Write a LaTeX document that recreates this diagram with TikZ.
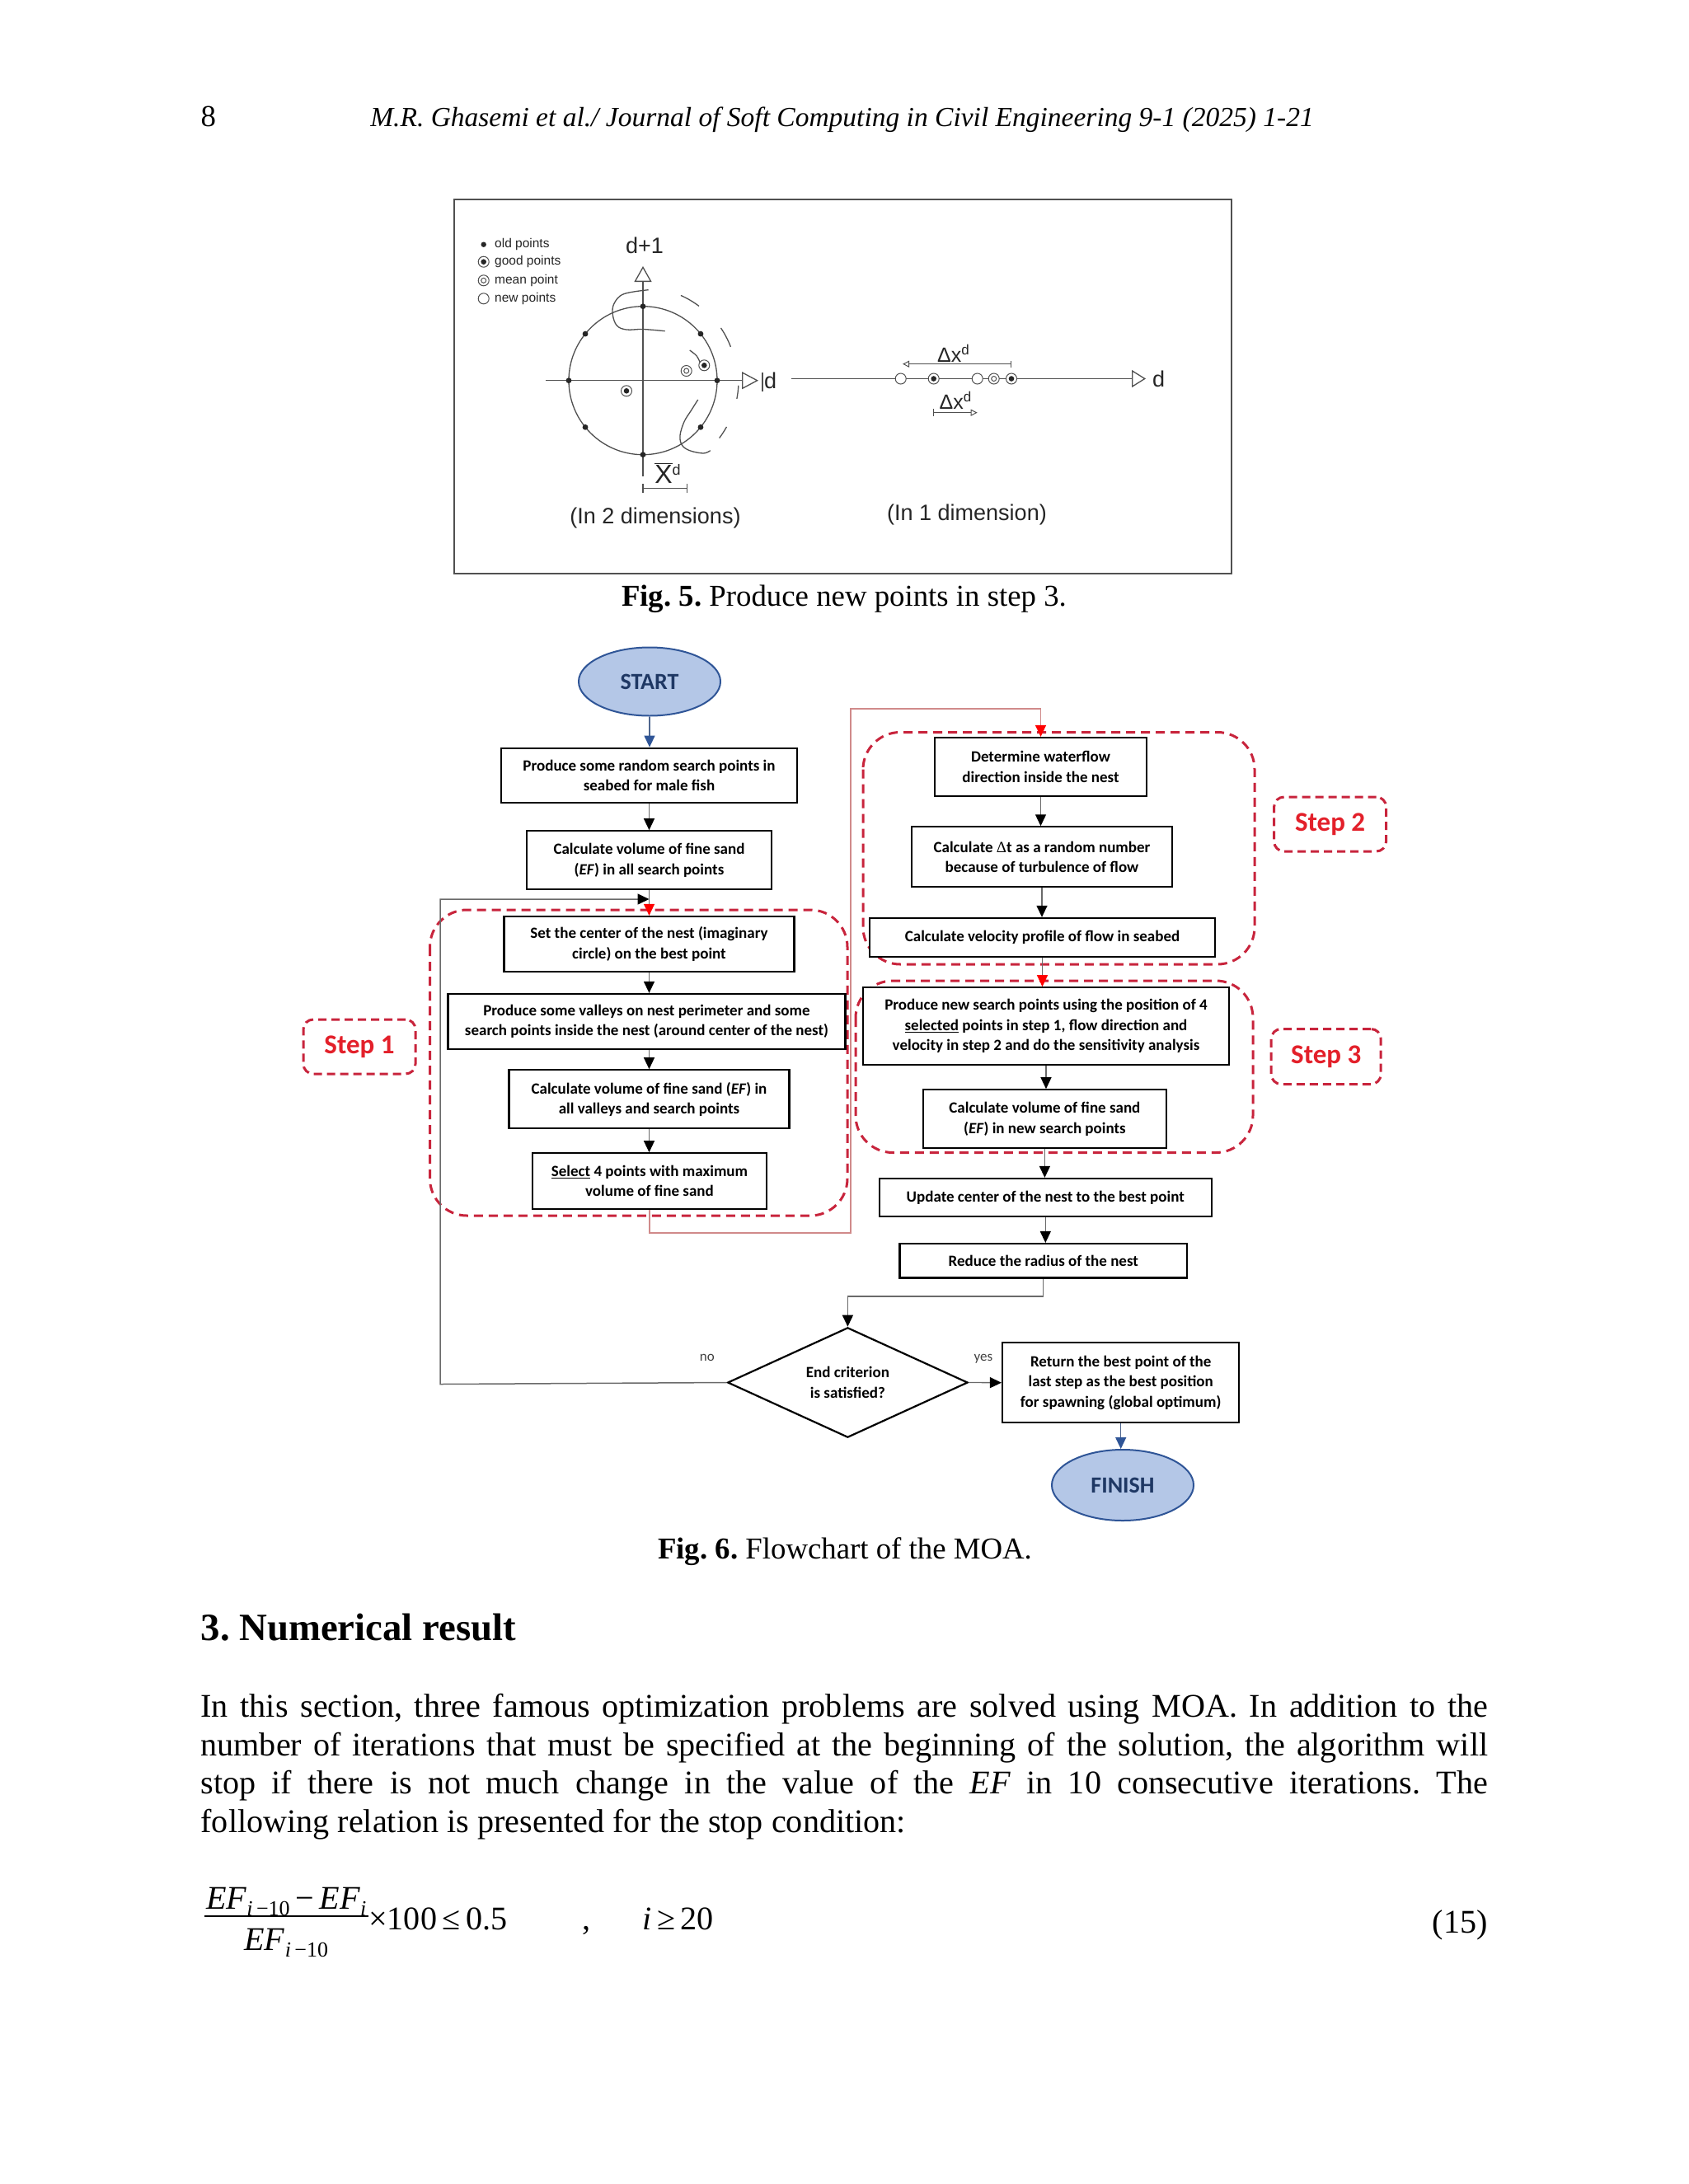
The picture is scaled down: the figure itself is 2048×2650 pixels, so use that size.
\documentclass[tikz,border=0pt]{standalone}
\usepackage{fontspec}
\setmainfont{Liberation Serif}
\newfontfamily\carlito{Carlito}
\newfontfamily\arialf{Liberation Sans}
\usetikzlibrary{arrows.meta,shapes.geometric}
\definecolor{startfill}{HTML}{B4C7E7}
\definecolor{startline}{HTML}{2F5597}
\definecolor{starttext}{HTML}{1F3864}
\definecolor{dashred}{HTML}{C8243C}
\definecolor{stepred}{HTML}{E3202A}
\definecolor{pinkl}{HTML}{D08A8A}
\definecolor{lineg}{HTML}{6A6A6A}
\definecolor{figg}{HTML}{505050}
\definecolor{figt}{HTML}{262626}
\frenchspacing
\newcommand{\fcf}{\carlito\bfseries\fontsize{19}{24.5}\selectfont}
\newcommand{\af}[1]{\arialf\fontsize{#1}{#1}\selectfont}
\newcommand{\EFs}[1]{\textit{EF}\raisebox{-8pt}{\fontsize{26}{26}\selectfont #1}}
\tikzset{
  fcbox/.style={draw=black, line width=2.2pt, fill=white, align=center, inner sep=0pt, font=\fcf},
  arr/.style={draw=lineg, line width=1.3pt, -{Triangle[length=14pt,width=13pt,color=black]}},
  redarr/.style={draw=lineg, line width=1.3pt, -{Triangle[length=14pt,width=13pt,color=red]}},
  bluearr/.style={draw=startline!60!gray, line width=1.3pt, -{Triangle[length=14pt,width=13pt,color=startline]}},
  pinkarr/.style={draw=pinkl, line width=1.3pt, -{Triangle[length=14pt,width=13pt,color=red]}},
  looparr/.style={draw=lineg, line width=1.5pt, -{Triangle[length=14pt,width=13pt,color=black]}},
  stepdash/.style={draw=dashred, line width=3pt, dash pattern=on 11pt off 7pt, rounded corners=45pt},
  steplab/.style={draw=dashred, line width=3pt, dash pattern=on 10pt off 6pt, rounded corners=12pt, text=stepred, font=\carlito\bfseries\fontsize{33}{33}\selectfont, inner sep=0pt},
  termin/.style={ellipse, draw=startline, line width=2pt, fill=startfill, text=starttext, font=\carlito\bfseries\fontsize{28}{28}\selectfont, inner sep=0pt},
  figline/.style={draw=figg, line width=1.3pt},
  figtxt/.style={text=figt, inner sep=0pt},
  pagetxt/.style={inner sep=0pt, font=\fontsize{40.15}{46.7}\selectfont},
  lbl/.style={inner sep=0pt, text=black!75, font=\carlito\fontsize{17}{17}\selectfont}
}
\begin{document}
\begin{tikzpicture}[x=1pt,y=-1pt]
\useasboundingbox (0,0) rectangle (2048,2650);
\fill[white] (0,0) rectangle (2048,2650);

% ---------- header ----------
\node[anchor=base west, inner sep=0pt, font=\fontsize{36.8}{40}\selectfont] (pg) at (243.4,153) {8};
\node[anchor=base, inner sep=0pt, font=\itshape\fontsize{33.5}{40}\selectfont] (hd) at (1021.5,153) {M.R. Ghasemi et al./ Journal of Soft Computing in Civil Engineering 9-1 (2025) 1-21};

% ---------- Fig. 5 ----------
\draw[draw=figg, line width=1.8pt] (551,242) rectangle (1494,696);
% legend
\fill[figt] (586.7,296.7) circle (3.2);
\draw[figline, line width=1pt] (586.7,317.7) circle (6.5);
\fill[figt] (586.7,317.7) circle (3.3);
\draw[figline, line width=1pt] (586.7,340.3) circle (6.5);
\draw[figline, line width=1pt] (586.7,340.3) circle (3);
\draw[figline, line width=1pt] (586.7,362.3) circle (6.5);
\node[figtxt, anchor=west, font=\af{15.5}] (leg1) at (600,296.7) {old points};
\node[figtxt, anchor=west, font=\af{15.5}] (leg2) at (600,317.7) {good points};
\node[figtxt, anchor=west, font=\af{15.5}] (leg3) at (600,340.3) {mean point};
\node[figtxt, anchor=west, font=\af{15.5}] (leg4) at (600,362.3) {new points};
% 2D axes
\draw[figline, -{Triangle[open,length=19pt,width=21pt]}] (780,578) -- (780,323);
\draw[figline, -{Triangle[open,length=20pt,width=21pt]}] (662,461.7) -- (920,461.7);
\draw[figline] (925,452) -- (925,475);
\node[figtxt, font=\af{27}] (dp1) at (782,298) {d+1};
\node[figtxt, anchor=west, font=\af{27}] (d2) at (927,461.7) {d};
\draw[figline] (780,461.7) circle (90);
\foreach \a in {0,39,90,141,180,219,270,321}
  \fill[figt] (780,461.7) ++(\a:90) circle (3.4);
% good / mean points
\draw[figline, line width=1pt, fill=white] (760,474.3) circle (6.5);
\fill[figt] (760,474.3) circle (3.3);
\draw[figline, line width=1pt, fill=white] (854.3,443.3) circle (6.5);
\fill[figt] (854.3,443.3) circle (3.3);
\draw[figline, line width=1pt] (832.7,450) circle (6.5);
\draw[figline, line width=1pt] (832.7,450) circle (3);
% dashed arc pieces
\draw[figline] (780,461.7) ++(-66:113) arc (-66:-53:113);
\draw[figline] (780,461.7) ++(-34:114) arc (-34:-21:114);
\draw[figline] (780,461.7) ++(3:116) arc (3:11:116);
\draw[figline] (780,461.7) ++(29:116) arc (29:37:116);
% swirl curves
\draw[figline] plot[smooth, tension=0.6] coordinates {(786.7,351.7) (756.7,356.7) (745,368.3) (743.3,381.7) (748.3,395) (760,400) (780,399.5) (806.7,401.7)};
\draw[figline] plot[smooth, tension=0.6] coordinates {(846.7,485) (838.3,498.3) (830,511.7) (825,528.3) (827.3,540) (836.7,546.7) (853.3,550) (861.7,546.7)};
\draw[figline] plot[smooth, tension=0.6] coordinates {(836.7,425) (845,431.7) (849.3,440)};
% Xbar dimension
\node[figtxt, font=\af{32}] (xbar) at (810,574) {$\overline{\hbox{X}}$\raisebox{10pt}{\af{18}d}};
\draw[figline] (780,592.3) -- (833.3,592.3);
\draw[figline] (780,587) -- (780,597.5);
\draw[figline] (833.3,587) -- (833.3,597.5);
\node[figtxt, font=\af{27}] (in2) at (795,628.3) {(In 2 dimensions)};
% 1D axis
\draw[figline, -{Triangle[open,length=17pt,width=21pt]}] (960,459.5) -- (1390,459.5);
\node[figtxt, anchor=west, font=\af{27}] (d1) at (1398,459.5) {d};
\draw[figline, line width=1pt, fill=white] (1092.7,459.5) circle (6.5);
\draw[figline, line width=1pt, fill=white] (1132.7,459.5) circle (6.5);
\fill[figt] (1132.7,459.5) circle (3.3);
\draw[figline, line width=1pt, fill=white] (1185.7,459.5) circle (6.5);
\draw[figline, line width=1pt, fill=white] (1205.7,459.5) circle (6.5);
\draw[figline, line width=1pt] (1205.7,459.5) circle (3);
\draw[figline, line width=1pt, fill=white] (1227,459.5) circle (6.5);
\fill[figt] (1227,459.5) circle (3.3);
\draw[figline, line width=1pt, -{Triangle[open,length=8pt,width=8pt]}] (1226.7,441.7) -- (1095,441.7);
\draw[figline, line width=1pt] (1226.7,437.5) -- (1226.7,446);
\node[figtxt, anchor=base, font=\af{25}] (dxa) at (1156.5,439) {Δx\raisebox{9pt}{\af{17}d}};
\draw[figline, line width=1pt, -{Triangle[open,length=8pt,width=8pt]}] (1132.7,500.7) -- (1185.7,500.7);
\draw[figline, line width=1pt] (1132.7,496) -- (1132.7,505);
\node[figtxt, anchor=base, font=\af{25}] (dxb) at (1159,496.7) {Δx\raisebox{9pt}{\af{17}d}};
\node[figtxt, font=\af{27}] (in1) at (1173,625) {(In 1 dimension)};

\node[anchor=base, inner sep=0pt, font=\fontsize{36.8}{42}\selectfont] (cap5) at (1024,735) {\textbf{Fig. 5.} Produce new points in step 3.};

% ---------- Fig. 6 flowchart ----------
\draw[stepdash] (521.5,1104) rectangle (1028,1475);
\draw[stepdash] (1047,888.5) rectangle (1522,1170);
\draw[stepdash] (1038,1190) rectangle (1520,1398.5);
\node[steplab, minimum width=136pt, minimum height=66pt] (st1) at (436,1270) {Step 1};
\node[steplab, minimum width=136pt, minimum height=66pt] (st2) at (1613.6,1000) {Step 2};
\node[steplab, minimum width=133pt, minimum height=67pt] (st3) at (1608.7,1282) {Step 3};

\node[termin, minimum width=172pt, minimum height=83pt] (start) at (788,827) {START};
\node[fcbox, minimum width=359pt, minimum height=66.6pt] (b1) at (787.5,941) {Produce some random search points in\\seabed for male fish};
\node[fcbox, minimum width=296.4pt, minimum height=71pt] (b2) at (787.5,1043.8) {Calculate volume of fine sand\\(\textit{EF}) in all search points};
\node[fcbox, minimum width=352pt, minimum height=67pt] (b3) at (787.5,1145.5) {Set the center of the nest (imaginary\\circle) on the best point};
\node[fcbox, minimum width=482pt, minimum height=66.7pt] (b4) at (784.5,1239.3) {Produce some valleys on nest perimeter and some\\search points inside the nest (around center of the nest)};
\node[fcbox, minimum width=340pt, minimum height=71pt] (b5) at (787.5,1333.8) {Calculate volume of fine sand (\textit{EF}) in\\all valleys and search points};
\node[fcbox, minimum width=284pt, minimum height=67.4pt] (b6) at (788,1433) {\underline{Select} 4 points with maximum\\volume of fine sand};
\node[fcbox, minimum width=256.6pt, minimum height=71pt] (b7) at (1262.5,930.5) {Determine waterflow\\direction inside the nest};
\node[fcbox, minimum width=316pt, minimum height=72.7pt] (b8) at (1264,1039.7) {Calculate {\rmfamily\mdseries Δ}t as a random number\\because of turbulence of flow};
\node[fcbox, minimum width=419pt, minimum height=46.7pt] (b9) at (1264.5,1137.3) {Calculate velocity profile of flow in seabed};
\node[fcbox, minimum width=444pt, minimum height=93.4pt] (b10) at (1269,1245) {Produce new search points using the position of 4\\\underline{selected} points in step 1, flow direction and\\velocity in step 2 and do the sensitivity analysis};
\node[fcbox, minimum width=295.6pt, minimum height=71pt] (b11) at (1267.4,1357.8) {Calculate volume of fine sand\\(\textit{EF}) in new search points};
\node[fcbox, minimum width=402.6pt, minimum height=46pt] (b12) at (1268.3,1453) {Update center of the nest to the best point};
\node[fcbox, minimum width=348.5pt, minimum height=41.5pt] (b13) at (1265.8,1529.8) {Reduce the radius of the nest};
\node[diamond, draw=black, line width=2.2pt, fill=white, aspect=2.18, minimum width=291.4pt, minimum height=133.4pt, inner sep=0pt, align=center, font=\fcf] (dec) at (1028.4,1677.5) {End criterion\\is satisfied?};
\node[fcbox, minimum width=287.3pt, minimum height=96.7pt] (ret) at (1359.7,1677.7) {Return the best point of the\\last step as the best position\\for spawning (global optimum)};
\node[termin, minimum width=172pt, minimum height=86pt] (fin) at (1362,1802) {FINISH};

\coordinate (pA) at (1032,1496);
\coordinate (pB) at (1032,860);
\coordinate (rB) at (1265.8,1573);
\coordinate (nA) at (534,1679.5);
\coordinate (jB) at (787.5,1091);

\draw[bluearr] (start.south) -- (start.south |- b1.north);
\draw[arr] (b1.south) -- (b1.south |- b2.north);
\draw[redarr] (b2.south) -- (b2.south |- b3.north);
\draw[arr] (b3.south) -- (b3.south |- b4.north);
\draw[arr] (b3.south |- b4.south) -- (b3.south |- b5.north);
\draw[arr] (b5.south) -- (b5.south |- b6.north);
\draw[pinkarr] (b6.south) |- (pA) -- (pB) -| (b7.north);
\draw[arr] (b7.south) -- (b7.south |- b8.north);
\draw[arr] (b8.south) -- (b8.south |- b9.north);
\draw[redarr] (b9.south) -- (b9.south |- b10.north);
\draw[arr] (b10.south) -- (b10.south |- b11.north);
\draw[arr] (b11.south) -- (b11.south |- b12.north);
\draw[arr] (b12.south) -- (b12.south |- b13.north);
\draw[arr] (b13.south) -- (rB) -| (dec.north);
\draw[arr] (dec.east) -- (ret.west);
\draw[bluearr] (ret.south) -- (ret.south |- fin.north);
\draw[looparr] (dec.west) -- (nA) |- (jB);
\node[lbl] (no) at (857.8,1647.7) {no};
\node[lbl] (yes) at (1192.9,1648.3) {yes};

\node[anchor=base, inner sep=0pt, font=\fontsize{36.8}{42}\selectfont] (cap6) at (1025,1891) {\textbf{Fig. 6.} Flowchart of the MOA.};

% ---------- section text ----------
\node[anchor=base west, inner sep=0pt, font=\bfseries\fontsize{46.8}{52}\selectfont] (sec) at (243.4,1990) {3. Numerical result};
\node[pagetxt, anchor=base west] (t1) at (243.4,2083.3) {\makebox[1561.6pt][s]{In this section, three famous optimization problems are solved using MOA. In addition to the}};
\node[pagetxt, anchor=base west] (t2) at (243.4,2130) {\makebox[1561.6pt][s]{number of iterations that must be specified at the beginning of the solution, the algorithm will}};
\node[pagetxt, anchor=base west] (t3) at (243.4,2176.7) {\makebox[1561.6pt][s]{stop if there is not much change in the value of the \textit{EF} in 10 consecutive iterations. The}};
\node[pagetxt, anchor=base west] (t4) at (243.4,2223.3) {following relation is presented for the stop condition:};

% ---------- equation ----------
\node[pagetxt, anchor=base] (num) at (347.2,2316.7) {\EFs{\textit{i}\,−10}\,−\,\EFs{\textit{i}}};
\node[pagetxt, anchor=base] (den) at (347.2,2366.7) {\EFs{\textit{i}\,−10}};
\draw[line width=1.8pt] (248,2325) -- (446.5,2325);
\node[pagetxt, anchor=base west] (rest) at (447,2341.7) {×100\,≤\,0.5};
\node[pagetxt, anchor=base west] (comma) at (706,2341.7) {,};
\node[pagetxt, anchor=base west] (cond) at (779,2341.7) {\textit{i}\,≥\,20};
\node[pagetxt, anchor=base east] (eqn) at (1805,2345) {(15)};
\end{tikzpicture}
\end{document}
